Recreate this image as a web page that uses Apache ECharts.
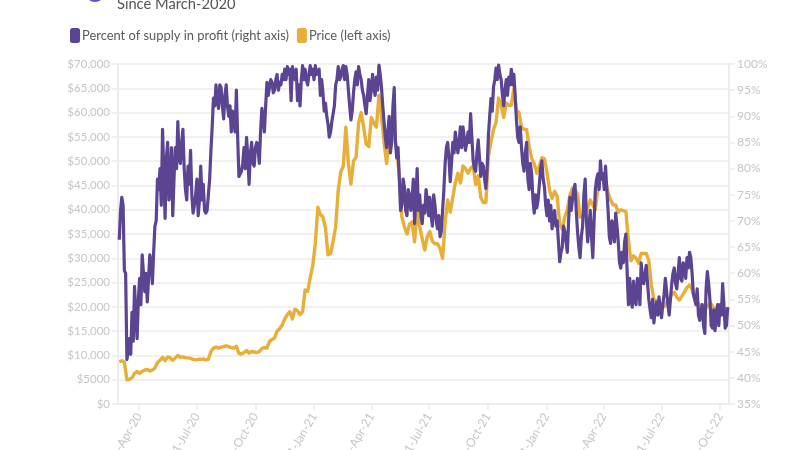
<!DOCTYPE html>
<html><head><meta charset="utf-8">
<style>html,body{margin:0;padding:0;background:#fff}#c{width:800px;height:450px}</style>
<script src="https://cdn.jsdelivr.net/npm/echarts@6/dist/echarts.min.js"></script>
</head><body><div id="c"></div>
<script>
const subtitle = "Since March-2020";
const supplyName = "Percent of supply in profit (right axis)";
const priceName = "Price (left axis)";
const firstDate = "2020-03-01";
const supplyStepDays = 2;
const priceStepDays = 4;
const tickDates = ["2020-04-01","2020-07-01","2020-10-01","2021-01-01","2021-04-01","2021-07-01","2021-10-01","2022-01-01","2022-04-01","2022-07-01","2022-10-01"];
const leftTickLabels = ["$0","$5000","$10,000","$15,000","$20,000","$25,000","$30,000","$35,000","$40,000","$45,000","$50,000","$55,000","$60,000","$65,000","$70,000"];
const supply = [
66.4,72,74.5,73,60.5,60,43.5,45,47.5,44.5,52.5,47,57.5,52,47.5,55,59,54,63.5,60,
56.5,60,54.5,59,63.5,62,58,64,69,70,78,76,80,73,87.5,79,70.5,82,85,74,
76,84,71,78,84,80,89,82,81,85,87.5,80,76,74,80.5,77,83.5,75,71.5,73,
75,78,71,74,80.5,74,77,72,71.5,72,75,78,83.5,88,93.5,92,96,93,91.5,96,
95.5,92,89.5,94,96,92,90,92,87,91,89,87,95,86,78.5,79,79.5,81,84,80,
86,82,77,83,85,81,80.5,84,85,84,81,87,91.5,90,87,92,96.5,94,95.5,97,
96.5,94.5,95,97,98,95,96.5,96,98,97,99,97,99.5,98,99,93,99.5,98,97,99,
93,96,92,97,99.7,97,99,97,96,98,99.7,98,99,97,99.7,98,98,99,94,97,
94.5,91,92.5,90,88.5,86,87,89,90.5,92,96,97,99.5,97,97.5,99,99.7,97,99.5,98,
95,92,89.3,91,94.5,97,98.5,96,99.5,98,97,95,94,92,90.5,94,97,93,95,98,
95.5,94,97.5,95,99.8,98,95.5,92,89,86,84,87,90,83,85,92,95.5,85,82,84,
78,72,73,78,76.5,72,71,76,75,72,74,78,69.5,74,80,72,75,71,69.5,73,
71.5,76,74,71,74.5,71,69,75,73,70,68.5,71,67,68,72,76,81,84,85,82,
77.5,81,85,83,87,85,83,85,88,84,88,86,83.5,85,87,85,90.5,86,81.5,80,
79.5,83,85.5,82,78.5,81,80.5,78,76.2,80,86.4,90,93.4,91,95.6,97,99.2,97,99.8,98,
97,94,92,95,97,94,97.5,96,99,96,98,94,89.3,86,85,88,84,81,79.5,83,
85,78,76,81,79,74,71.5,75,72.5,74,77,80,81.5,78,76.5,73,71,74,70,73,
68.5,71,72,69,70,66,62.2,64,65,69,68,66,64,70,74.5,72,74,76,77,72,
68,65,63,67,69,75,78,70,66,69,72,67,63,70,76,78,79,76,81.5,78,
79,76,80.5,76,72,67,65.7,70,69,66,71.5,69,66,62,61,64,62,66,67.5,60,
54,59,55,53.5,58.5,55,54,59,58,54,62,59,58,60,61.5,58,55,53,51.5,55,
50.5,53,54.5,52,55.5,53,51.5,54,56,59,59,54,52,55,58,60,61,58,57,60,
63,59,58.5,62,61.5,59,63,61,64,63,60,56,55,54,57,52,51,53,54,50,
48.5,57,60.3,58,55,50,49.5,53,49,52,54,50,54,52,58,54,49.5,50,53.5];
const price = [
8700,8900,8600,5000,5100,5400,6300,6700,6300,6700,
7000,7100,6800,7000,7400,8500,9000,9600,8900,9700,
9500,9000,9500,10000,9600,9700,9500,9500,9400,9200,
9100,9200,9200,9300,9100,9200,10800,11500,11700,11500,
11700,11800,12000,11800,11600,11500,11900,10400,10300,10600,
11000,10500,10800,10700,10600,10800,11400,11600,11500,12900,
13300,13600,15000,15500,16300,17500,18400,19000,17500,19500,
19200,18400,19000,23500,23200,26000,28500,33000,40500,39000,
38500,36200,30700,31000,33500,36500,44000,47800,49000,57000,
49500,45300,50000,50800,57800,60000,57000,53500,53000,59000,
57800,57000,63600,59000,54000,49500,55000,55500,56000,52000,
47000,38500,36500,35000,37000,37500,33400,40000,36500,34000,
31700,34500,35500,33500,33000,33000,32000,30000,37500,42000,
39500,42500,45500,47500,45500,49000,48500,47500,48500,49000,
45200,47000,42500,41500,41500,51000,54000,56500,58000,63000,
61500,59000,62000,61500,61500,65000,60500,60000,57000,56500,
56500,53000,50500,49500,47500,49000,50700,50500,47700,44000,
42300,43800,42800,37000,36000,38500,40000,43000,44400,44000,
43300,38500,38500,39500,40500,42000,41000,40000,44500,47500,
46500,46000,43500,42000,41000,41000,39500,40000,39800,39600,
33500,29500,30500,30000,29000,31000,31000,31000,29500,24500,
21500,21300,21000,20200,20000,21000,21500,22500,23000,22000,
21400,22200,23100,24000,24500,23500,22000,21000,20400,20000,
19700,20000,20900,20200,19400,19800,20400,20000,19400,19400];

const DAY = 86400000;
const t0 = Date.parse(firstDate + "T00:00:00Z");
const ticks = tickDates.map(d => Date.parse(d + "T00:00:00Z"));
const MON = ["Jan","Feb","Mar","Apr","May","Jun","Jul","Aug","Sep","Oct","Nov","Dec"];
const fmt = v => { const d = new Date(v); return d.getUTCDate()+"-"+MON[d.getUTCMonth()]+"-"+String(d.getUTCFullYear()).slice(2); };
const FONT = "Lato";
const AX = "#ececec", TXT = "#c6c6c6";
const chart = echarts.init(document.getElementById("c"), null, {renderer:"canvas"});
chart.setOption({
  animation: false, backgroundColor: "#fff",
  textStyle: {fontFamily: FONT},
  title: {text: subtitle, left: 112, top: -8, textStyle: {fontFamily: FONT, fontSize: 14.7, fontWeight: "normal", color: "#555"}},
  graphic: [{type:"circle", shape:{cx:95, cy:-8, r:10}, style:{fill:"#6f42e8"}}],
  legend: {left: 65, top: 23, icon: "roundRect", itemWidth: 10, itemHeight: 15, itemGap: 8,
    data: [supplyName, priceName], selectedMode: false,
    textStyle: {fontFamily: FONT, fontSize: 12.9, color: "#5a5a5a", padding: [0,0,0,-3]}},
  grid: {left: 118, right: 71, top: 64, bottom: 46, outerBoundsMode: "none"},
  xAxis: {type:"value", min: Date.parse("2020-02-28T00:00:00Z"), max: Date.parse("2022-10-15T00:00:00Z"),
    axisLine: {lineStyle:{color:AX, width:2}},
    axisTick: {show:true, customValues: ticks, length:6, lineStyle:{color:AX, width:1.5}},
    axisLabel: {customValues: ticks, rotate:60, color:TXT, fontSize:12, margin:10, formatter: v => fmt(v), hideOverlap:false},
    splitLine: {show:false}},
  yAxis: [
    {type:"value", min:0, max:70000, interval:5000,
     axisLine:{show:true, lineStyle:{color:AX, width:2}},
     axisTick:{show:true, length:6, lineStyle:{color:AX, width:1.5}},
     axisLabel:{color:TXT, fontSize:11.5, margin:8, formatter:(v)=>leftTickLabels[Math.round(v/5000)]},
     splitLine:{show:true, lineStyle:{color:"#f1f1f1", width:2}}},
    {type:"value", min:35, max:100, interval:5, position:"right",
     axisLine:{show:true, lineStyle:{color:AX, width:2}},
     axisTick:{show:true, length:6, lineStyle:{color:AX, width:1.5}},
     axisLabel:{color:TXT, fontSize:12, margin:8, formatter:"{value}%"},
     splitLine:{show:false}}
  ],
  series: [
    {name: priceName, type:"line", yAxisIndex:0, showSymbol:false, symbol:"none", z:2,
     lineStyle:{color:"#e8ae3a", width:3.4, join:"round"}, itemStyle:{color:"#e8ae3a"},
     data: price.map((v,i)=>[t0 + i*priceStepDays*DAY, v])},
    {name: supplyName, type:"line", yAxisIndex:1, showSymbol:false, symbol:"none", z:3,
     lineStyle:{color:"#5b4592", width:3.2, join:"round"}, itemStyle:{color:"#5b4592"},
     data: supply.map((v,i)=>[t0 + i*supplyStepDays*DAY, v])}
  ]
});
</script></body></html>
